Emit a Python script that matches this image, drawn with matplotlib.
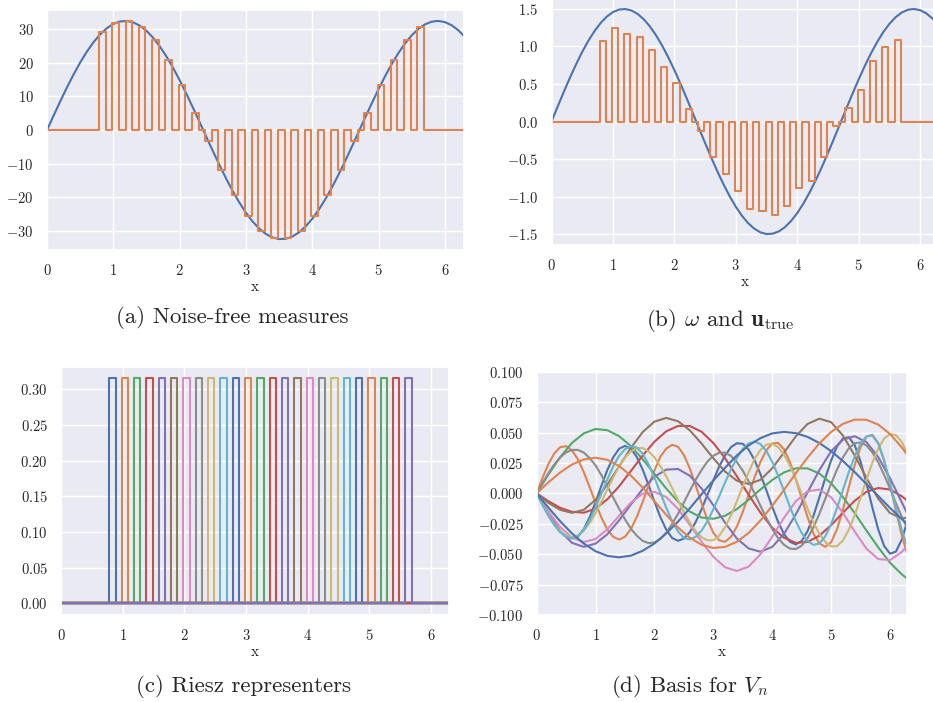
import numpy as np
import matplotlib
matplotlib.use("Agg")
import matplotlib.pyplot as plt
import seaborn as sns

# fine grid on [0, 2*pi]
x_fine = [0.0, 0.1, 0.2, 0.3, 0.4, 0.5, 0.6, 0.7, 0.8, 0.9, 1.0, 1.1, 1.2,
          1.3, 1.4, 1.5, 1.6, 1.7, 1.8, 1.9, 2.0, 2.1, 2.2, 2.3, 2.4, 2.5,
          2.6, 2.7, 2.8, 2.9, 3.0, 3.1, 3.2, 3.3, 3.4, 3.5, 3.6, 3.7, 3.8,
          3.9, 4.0, 4.1, 4.2, 4.3, 4.4, 4.5, 4.6, 4.7, 4.8, 4.9, 5.0, 5.1,
          5.2, 5.3, 5.4, 5.5, 5.6, 5.7, 5.8, 5.9, 6.0, 6.1, 6.2, 6.283]
# coarser grid, enough for the slowly varying basis functions
x_coarse = [0.0, 0.2, 0.4, 0.6, 0.8, 1.0, 1.2, 1.4, 1.6, 1.8, 2.0, 2.2, 2.4,
            2.6, 2.8, 3.0, 3.2, 3.4, 3.6, 3.8, 4.0, 4.2, 4.4, 4.6, 4.8, 5.0,
            5.2, 5.4, 5.6, 5.8, 6.0, 6.2, 6.283]

# true state, scaled for the measures panel and as is for panel (b)
state_scaled = [0.0, 4.32, 8.56, 12.66, 16.52, 20.10, 23.31, 26.12, 28.45,
                30.29, 31.59, 32.32, 32.49, 32.07, 31.09, 29.55, 27.49, 24.94,
                21.95, 18.58, 14.87, 10.89, 6.72, 2.43, -1.90, -6.19, -10.38,
                -14.38, -18.13, -21.56, -24.60, -27.22, -29.32, -30.93, -31.98,
                -32.47, -32.38, -31.71, -30.49, -28.71, -26.44, -23.69, -20.52,
                -16.99, -13.15, -9.08, -4.86, -0.54, 3.79, 8.04, 12.16, 16.06,
                19.67, 22.93, 25.80, 28.19, 30.09, 31.46, 32.26, 32.50, 32.15,
                31.24, 29.77, 28.15]
u_true = [0.0, 0.199, 0.395, 0.584, 0.762, 0.928, 1.076, 1.205, 1.313, 1.398,
          1.458, 1.492, 1.499, 1.480, 1.435, 1.364, 1.269, 1.151, 1.013, 0.857,
          0.686, 0.503, 0.310, 0.112, -0.088, -0.286, -0.479, -0.664, -0.837,
          -0.995, -1.135, -1.256, -1.353, -1.427, -1.476, -1.499, -1.494,
          -1.464, -1.407, -1.325, -1.220, -1.093, -0.947, -0.784, -0.607,
          -0.419, -0.224, -0.025, 0.175, 0.371, 0.561, 0.741, 0.908, 1.058,
          1.191, 1.301, 1.389, 1.452, 1.489, 1.500, 1.484, 1.442, 1.374, 1.299]

# 25 local-average sensors
sensor_starts = [0.785, 0.985, 1.185, 1.385, 1.585, 1.785, 1.985, 2.185,
                 2.385, 2.585, 2.785, 2.985, 3.185, 3.385, 3.585, 3.785,
                 3.985, 4.185, 4.385, 4.585, 4.785, 4.985, 5.185, 5.385, 5.585]
sensor_width = 0.1
measures = [29.2, 31.9, 32.4, 30.6, 26.7, 20.8, 13.5, 5.2, -3.4, -11.8, -19.4,
            -25.6, -30.0, -32.2, -32.2, -30.0, -25.6, -19.4, -11.8, -3.4, 5.2,
            13.5, 20.8, 26.7, 30.6]
omega = [1.07, 1.25, 1.17, 1.13, 0.95, 0.73, 0.515, 0.165, -0.12, -0.466,
         -0.705, -0.925, -1.165, -1.195, -1.245, -1.12, -0.885, -0.795, -0.472,
         -0.065, 0.178, 0.425, 0.81, 0.99, 1.085]
riesz_height = 0.316

# reduced basis functions for V_n (fine or coarse grid, by length)
basis = [
    [0, -0.0093, -0.0180, -0.0255, -0.0314, -0.0353, -0.0370, -0.0355, -0.0294,
     -0.0196, -0.0071, 0.0064, 0.0192, 0.0297, 0.0367, 0.0390, 0.0367, 0.0299,
     0.0195, 0.0068, -0.0068, -0.0195, -0.0299, -0.0367, -0.0390, -0.0372,
     -0.0319, -0.0236, -0.0131, -0.0012, 0.0108, 0.0222, 0.0313, 0.0380,
     0.0412, 0.0407, 0.0359, 0.0273, 0.0157, 0.0025, -0.0111, -0.0235, -0.0335,
     -0.0398, -0.0420, -0.0392, -0.0310, -0.0185, -0.0033, 0.0125, 0.0271,
     0.0385, 0.0451, 0.0461, 0.0397, 0.0261, 0.0082, -0.0117, -0.0297, -0.0432,
     -0.0496, -0.0479, -0.0380, -0.0246],
    [0, 0.0128, 0.0242, 0.0329, 0.0380, 0.0388, 0.0353, 0.0280, 0.0174, 0.0050,
     -0.0079, -0.0200, -0.0298, -0.0358, -0.0380, -0.0357, -0.0293, -0.0194,
     -0.0070, 0.0063, 0.0189, 0.0301, 0.0368, 0.0399, 0.0383, 0.0315, 0.0205,
     0.0066, -0.0081, -0.0217, -0.0324, -0.0387, -0.0398, -0.0357, -0.0273,
     -0.0152, -0.0012, 0.0131, 0.0259, 0.0354, 0.0411, 0.0415, 0.0362, 0.0258,
     0.0116, -0.0042, -0.0196, -0.0332, -0.0411, -0.0440, -0.0402, -0.0295,
     -0.0134, 0.0050, 0.0232, 0.0380, 0.0466, 0.0481, 0.0412, 0.0268, 0.0073,
     -0.0144, -0.0347, -0.0483],
    [0, 0.0156, 0.0298, 0.0415, 0.0493, 0.0529, 0.0519, 0.0470, 0.0388,
     0.0280, 0.0160, 0.0040, -0.0068, -0.0150, -0.0199, -0.0209, -0.0184,
     -0.0129, -0.0053, 0.0032, 0.0110, 0.0172, 0.0206, 0.0205, 0.0163, 0.0082,
     -0.0030, -0.0163, -0.0306, -0.0444, -0.0570, -0.0666, -0.0697],
    [0, -0.0065, -0.0119, -0.0152, -0.0159, -0.0125, -0.0049, 0.0058, 0.0184,
     0.0311, 0.0425, 0.0510, 0.0554, 0.0554, 0.0506, 0.0414, 0.0288, 0.0140,
     -0.0012, -0.0159, -0.0283, -0.0365, -0.0407, -0.0400, -0.0348, -0.0262,
     -0.0159, -0.0061, 0.0013, 0.0044, 0.0031, -0.0024, -0.0056],
    [0, -0.0168, -0.0311, -0.0407, -0.0440, -0.0413, -0.0336, -0.0222, -0.0091,
     0.0036, 0.0137, 0.0195, 0.0200, 0.0145, 0.0040, -0.0098, -0.0242, -0.0372,
     -0.0453, -0.0480, -0.0440, -0.0333, -0.0172, 0.0008, 0.0191, 0.0346,
     0.0441, 0.0470, 0.0421, 0.0298, 0.0124, -0.0074, -0.0156],
    [0, -0.0078, -0.0136, -0.0160, -0.0135, -0.0053, 0.0072, 0.0222, 0.0374,
     0.0504, 0.0590, 0.0620, 0.0593, 0.0518, 0.0409, 0.0288, 0.0179, 0.0104,
     0.0077, 0.0111, 0.0206, 0.0336, 0.0468, 0.0571, 0.0614, 0.0585, 0.0475,
     0.0312, 0.0127, -0.0044, -0.0162, -0.0205, -0.0200],
    [0, -0.0150, -0.0277, -0.0365, -0.0400, -0.0375, -0.0295, -0.0184, -0.0076,
     -0.0003, 0.0013, -0.0031, -0.0128, -0.0259, -0.0398, -0.0522, -0.0608,
     -0.0638, -0.0602, -0.0500, -0.0356, -0.0201, -0.0065, 0.0017, 0.0031,
     -0.0032, -0.0160, -0.0314, -0.0455, -0.0540, -0.0549, -0.0482, -0.0435],
    [0, 0.0086, 0.0167, 0.0239, 0.0296, 0.0337, 0.0357, 0.0357, 0.0335, 0.0290,
     0.0229, 0.0148, 0.0059, -0.0035, -0.0127, -0.0214, -0.0291, -0.0348,
     -0.0391, -0.0409, -0.0404, -0.0375, -0.0324, -0.0251, -0.0169, -0.0075,
     0.0021, 0.0112, 0.0192, 0.0262, 0.0309, 0.0334, 0.0334, 0.0308, 0.0257,
     0.0186, 0.0098, 0.0000, -0.0103, -0.0203, -0.0293, -0.0369, -0.0423,
     -0.0454, -0.0458, -0.0430, -0.0368, -0.0279, -0.0168, -0.0045, 0.0079,
     0.0196, 0.0296, 0.0370, 0.0411, 0.0419, 0.0393, 0.0337, 0.0255, 0.0152,
     0.0038, -0.0080, -0.0194, -0.0278],
    [0, -0.0093, -0.0180, -0.0255, -0.0312, -0.0348, -0.0360, -0.0347, -0.0306,
     -0.0243, -0.0162, -0.0067, 0.0033, 0.0131, 0.0220, 0.0294, 0.0345, 0.0371,
     0.0372, 0.0346, 0.0296, 0.0224, 0.0139, 0.0043, -0.0057, -0.0154, -0.0240,
     -0.0311, -0.0361, -0.0387, -0.0385, -0.0348, -0.0277, -0.0180, -0.0064,
     0.0059, 0.0175, 0.0284, 0.0356, 0.0400, 0.0408, 0.0380, 0.0319, 0.0228,
     0.0119, -0.0003, -0.0126, -0.0240, -0.0332, -0.0400, -0.0436, -0.0434,
     -0.0388, -0.0299, -0.0181, -0.0035, 0.0112, 0.0251, 0.0370, 0.0450,
     0.0488, 0.0478, 0.0422, 0.0342],
    [0, -0.0096, -0.0185, -0.0262, -0.0320, -0.0357, -0.0370, -0.0352, -0.0300,
     -0.0220, -0.0116, -0.0002, 0.0114, 0.0224, 0.0308, 0.0364, 0.0389, 0.0377,
     0.0325, 0.0238, 0.0128, 0.0005, -0.0118, -0.0229, -0.0314, -0.0367,
     -0.0379, -0.0357, -0.0306, -0.0229, -0.0131, -0.0023, 0.0091, 0.0197,
     0.0292, 0.0365, 0.0410, 0.0425, 0.0405, 0.0348, 0.0259, 0.0146, 0.0020,
     -0.0111, -0.0230, -0.0326, -0.0393, -0.0423, -0.0413, -0.0353, -0.0253,
     -0.0120, 0.0028, 0.0175, 0.0304, 0.0409, 0.0468, 0.0476, 0.0411, 0.0271,
     0.0087, -0.0117, -0.0302, -0.0423],
    [0, -0.0118, -0.0230, -0.0330, -0.0413, -0.0476, -0.0514, -0.0526, -0.0512,
     -0.0472, -0.0412, -0.0329, -0.0232, -0.0123, -0.0007, 0.0106, 0.0211,
     0.0312, 0.0394, 0.0454, 0.0493, 0.0505, 0.0495, 0.0464, 0.0414, 0.0347,
     0.0266, 0.0175, 0.0077, -0.0022, -0.0120, -0.0211, -0.0246],
    [0, 0.0091, 0.0172, 0.0237, 0.0279, 0.0293, 0.0276, 0.0225, 0.0146, 0.0047,
     -0.0064, -0.0177, -0.0281, -0.0365, -0.0423, -0.0449, -0.0440, -0.0398,
     -0.0325, -0.0223, -0.0102, 0.0028, 0.0165, 0.0294, 0.0411, 0.0505, 0.0571,
     0.0606, 0.0605, 0.0565, 0.0488, 0.0378, 0.0323],
]
basis_yticks = [-0.100, -0.075, -0.050, -0.025, 0.000, 0.025, 0.050, 0.075, 0.100]


def box_line(starts, width, heights):
    """Piecewise constant line: zero outside the sensors, height inside."""
    xs = [0.0]
    ys = [0.0]
    for s, h in zip(starts, heights):
        xs += [s, s, s + width, s + width]
        ys += [0.0, h, h, 0.0]
    xs.append(2 * np.pi)
    ys.append(0.0)
    return xs, ys


def finish(ax):
    ax.set_xlim(0, 2 * np.pi)
    ax.set_xlabel("x", labelpad=1.5)


def main():
    sns.set_theme(style="darkgrid")
    plt.rcParams["font.family"] = "serif"
    plt.rcParams["font.serif"] = ["cmr10"]
    plt.rcParams["mathtext.fontset"] = "cm"
    plt.rcParams["axes.formatter.use_mathtext"] = True
    plt.rcParams["xtick.labelsize"] = 10.5
    plt.rcParams["ytick.labelsize"] = 10.5
    plt.rcParams["axes.labelsize"] = 11

    W, H = 933, 702
    fig = plt.figure(figsize=(W / 100, H / 100), dpi=100)

    def axes_px(x0, y0, x1, y1):
        return fig.add_axes([x0 / W, 1 - y1 / H, (x1 - x0) / W, (y1 - y0) / H])

    ax_a = axes_px(47, 10, 463.6, 250)
    ax_b = axes_px(551.5, -2.3, 937.5, 245.3)
    ax_c = axes_px(61, 366.6, 448.5, 614.6)
    ax_d = axes_px(536.7, 371.7, 906.7, 615)

    # (a) measures
    ax_a.plot(x_fine, state_scaled, color="C0", lw=1.5)
    bx, by = box_line(sensor_starts, sensor_width, measures)
    ax_a.plot(bx, by, color="C1", lw=1.5)
    finish(ax_a)

    # (b) omega and u_true
    ax_b.plot(x_fine, u_true, color="C0", lw=1.5)
    bx, by = box_line(sensor_starts, sensor_width, omega)
    ax_b.plot(bx, by, color="C1", lw=1.5)
    finish(ax_b)

    # (c) one Riesz representer per sensor
    for i, s in enumerate(sensor_starts):
        rx, ry = box_line([s], sensor_width, [riesz_height])
        ax_c.plot(rx, ry, color="C%d" % (i % 10), lw=1.5)
    finish(ax_c)

    # (d) basis functions
    for i, b in enumerate(basis):
        xs = x_fine if len(b) == len(x_fine) else x_coarse
        ax_d.plot(xs, b, color="C%d" % (i % 10), lw=1.5)
    ax_d.set_ylim(-0.1, 0.1)
    ax_d.set_yticks(basis_yticks)
    finish(ax_d)

    cap = dict(ha="center", va="center", fontsize=16.5)
    fig.text(232 / W, 1 - 318 / H, "(a) Noise-free measures", **cap)
    fig.text(720 / W, 1 - 320 / H, r"(b) $\omega$ and $\mathbf{u}_{\mathrm{true}}$", **cap)
    fig.text(243 / W, 1 - 687 / H, "(c) Riesz representers", **cap)
    fig.text(690 / W, 1 - 687 / H, r"(d) Basis for $V_n$", **cap)

    fig.savefig("out.png", dpi=100)


if __name__ == "__main__":
    main()
